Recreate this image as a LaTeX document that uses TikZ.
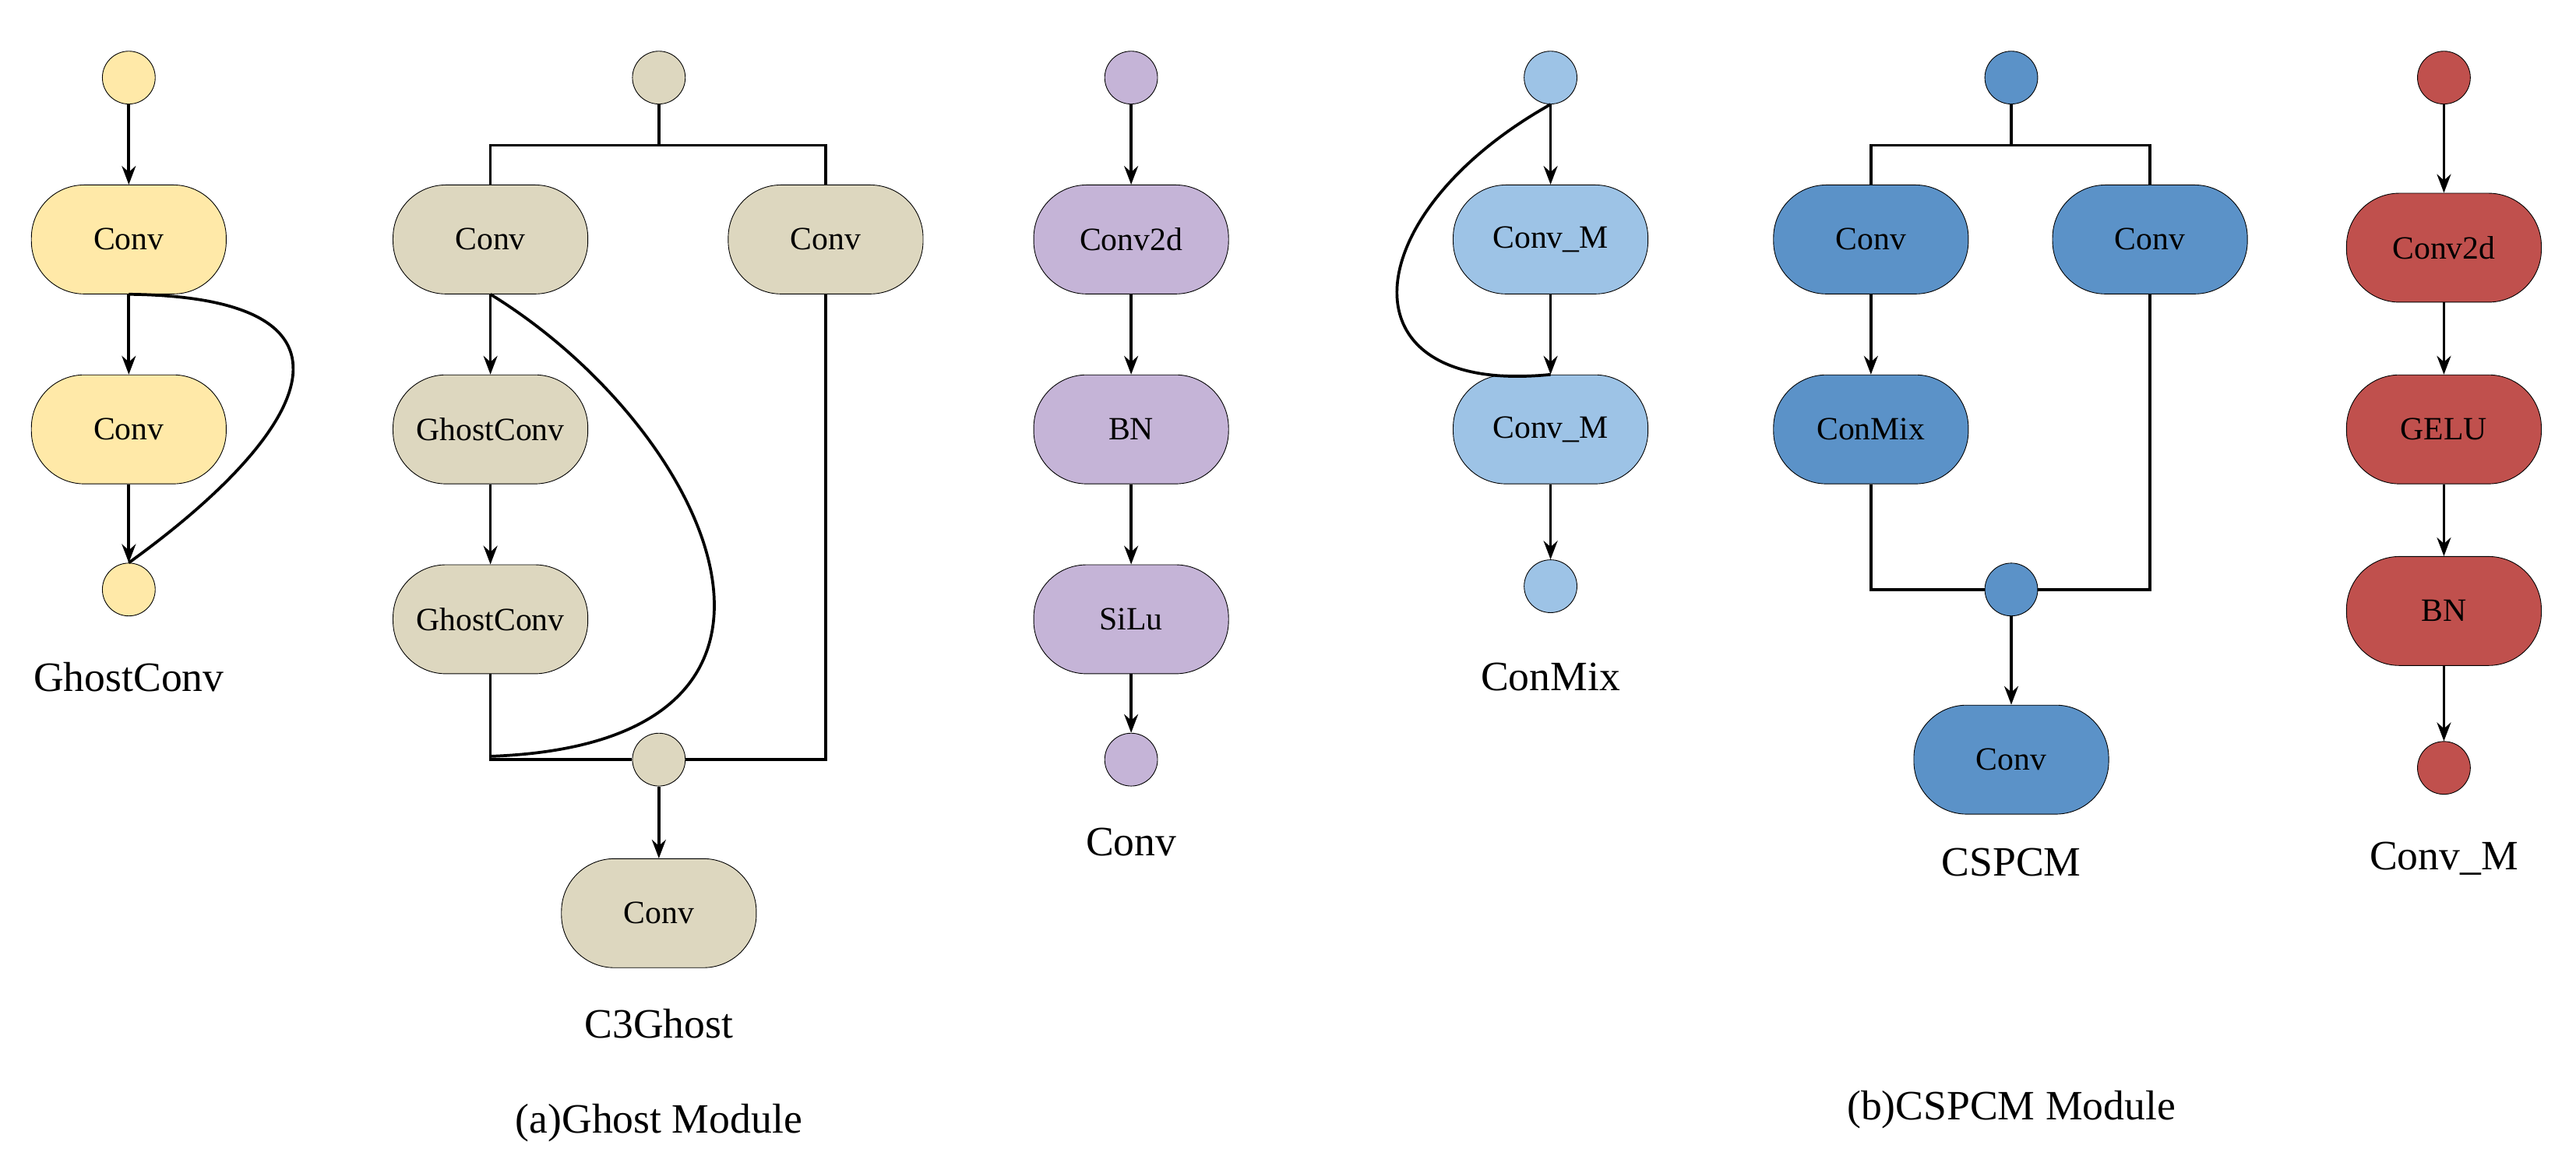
\documentclass[tikz,border=0pt]{standalone}
\usepackage{fontspec}
\setmainfont{Liberation Serif}
\usetikzlibrary{arrows.meta}
\definecolor{cy}{HTML}{FFE9A8}
\definecolor{cb}{HTML}{DDD7BF}
\definecolor{cp}{HTML}{C5B4D7}
\definecolor{cl}{HTML}{9DC3E6}
\definecolor{cd}{HTML}{5B92C8}
\definecolor{cr}{HTML}{C0504D}
\begin{document}
\begin{tikzpicture}[x=0.05cm,y=-0.05cm,
  box/.style={draw=black,line width=0.6pt,rounded corners=1.6cm,minimum width=5.9cm,minimum height=3.3cm,font=\fontsize{28}{30}\selectfont,inner sep=0},
  dot/.style={circle,draw=black,line width=0.6pt,minimum size=1.6cm,inner sep=0},
  lab/.style={font=\fontsize{36}{40}\selectfont},
  ar/.style={-{Stealth[length=16pt,width=12pt]}},
  every path/.style={line width=2.5pt}]
\useasboundingbox (0,0) rectangle (1560,700);
% GhostConv
\node[dot,fill=cy] (g0) at (78,47) {};
\node[box,fill=cy] (g1) at (78,145) {Conv};
\node[box,fill=cy] (g2) at (78,260) {Conv};
\node[dot,fill=cy] (g3) at (78,357) {};
\node[lab] (gl) at (78,410) {GhostConv};
\draw[ar] (g0) -- (g1);
\draw[ar] (g1) -- (g2);
\draw[ar] (g2) -- (g3);
\draw (g1.south) .. controls (230,180) and (190,260) .. (g3.north);
% C3Ghost
\node[dot,fill=cb] (c0) at (399,47) {};
\node[box,fill=cb] (c1) at (297,145) {Conv};
\node[box,fill=cb] (c2) at (500,145) {Conv};
\node[box,fill=cb] (c3) at (297,260) {GhostConv};
\node[box,fill=cb] (c4) at (297,375) {GhostConv};
\node[dot,fill=cb] (c5) at (399,460) {};
\node[box,fill=cb] (c6) at (399,553) {Conv};
\node[lab] (cl) at (399,620) {C3Ghost};
\coordinate (cj) at (399,88);
\draw (c0) -- (cj);
\draw (cj) -| (c1);
\draw (cj) -| (c2);
\draw[ar] (c1) -- (c3);
\draw[ar] (c3) -- (c4);
\draw (c4.south) |- (c5.west);
\draw (c2.south) |- (c5.east);
\draw (c1.south) .. controls (430,260) and (520,450) .. (297,458);
\draw[ar] (c5) -- (c6);
% Conv
\node[dot,fill=cp] (v0) at (685,47) {};
\node[box,fill=cp] (v1) at (685,145) {Conv2d};
\node[box,fill=cp] (v2) at (685,260) {BN};
\node[box,fill=cp] (v3) at (685,375) {SiLu};
\node[dot,fill=cp] (v4) at (685,460) {};
\node[lab] (vl) at (685,510) {Conv};
\draw[ar] (v0) -- (v1);
\draw[ar] (v1) -- (v2);
\draw[ar] (v2) -- (v3);
\draw[ar] (v3) -- (v4);
% ConMix
\node[dot,fill=cl] (m0) at (939,47) {};
\node[box,fill=cl] (m1) at (939,145) {Conv\_M};
\node[box,fill=cl] (m2) at (939,260) {Conv\_M};
\node[dot,fill=cl] (m3) at (939,355) {};
\node[lab] (ml) at (939,410) {ConMix};
\draw[ar] (m0) -- (m1);
\draw[ar] (m1) -- (m2);
\draw[ar] (m2) -- (m3);
\draw (m0.south) .. controls (820,130) and (810,240) .. (m2.north);
% CSPCM
\node[dot,fill=cd] (s0) at (1218,47) {};
\node[box,fill=cd] (s1) at (1133,145) {Conv};
\node[box,fill=cd] (s2) at (1302,145) {Conv};
\node[box,fill=cd] (s3) at (1133,260) {ConMix};
\node[dot,fill=cd] (s4) at (1218,357) {};
\node[box,fill=cd] (s5) at (1218,460) {Conv};
\node[lab] (sl) at (1218,522) {CSPCM};
\coordinate (sj) at (1218,88);
\draw (s0) -- (sj);
\draw (sj) -| (s1);
\draw (sj) -| (s2);
\draw[ar] (s1) -- (s3);
\draw (s3.south) |- (s4.west);
\draw (s2.south) |- (s4.east);
\draw[ar] (s4) -- (s5);
% Conv_M
\node[dot,fill=cr] (r0) at (1480,47) {};
\node[box,fill=cr] (r1) at (1480,150) {Conv2d};
\node[box,fill=cr] (r2) at (1480,260) {GELU};
\node[box,fill=cr] (r3) at (1480,370) {BN};
\node[dot,fill=cr] (r4) at (1480,465) {};
\node[lab] (rl) at (1480,520) {Conv\_M};
\draw[ar] (r0) -- (r1);
\draw[ar] (r1) -- (r2);
\draw[ar] (r2) -- (r3);
\draw[ar] (r3) -- (r4);
% captions
\node[lab] (ca) at (399,680) {(a)Ghost Module};
\node[lab] (cb2) at (1218,672) {(b)CSPCM Module};
\end{tikzpicture}
\end{document}
